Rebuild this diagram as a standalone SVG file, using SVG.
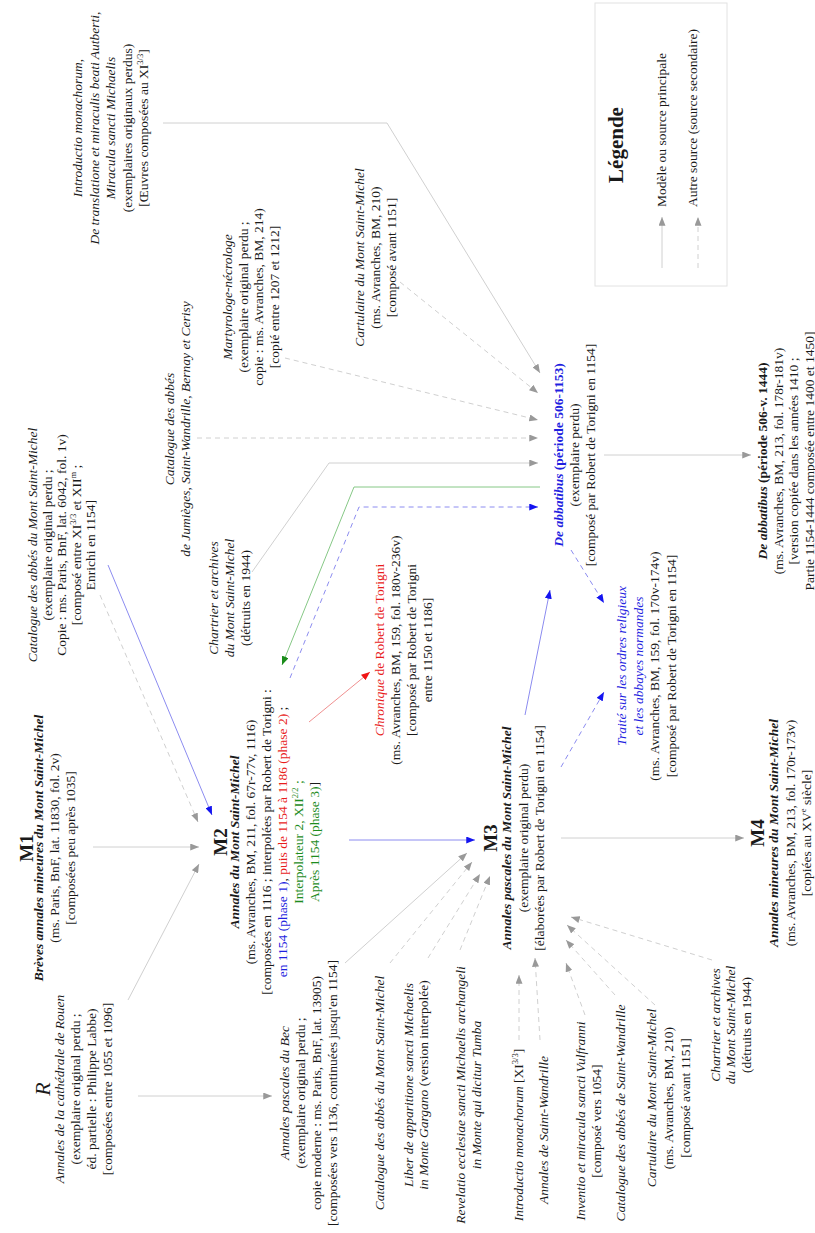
<svg xmlns="http://www.w3.org/2000/svg" width="815" height="1233" viewBox="0 0 815 1233">
<style>
text { font-family: "Liberation Serif", "Times New Roman", serif; font-size: 13.5px; fill: #1a1a1a; text-anchor: middle; }
.i { font-style: italic; }
.b { font-weight: bold; }
.bi { font-weight: bold; font-style: italic; }
.lbl { font-size: 19px; font-weight: bold; }
.blue { fill: #1f1fe0; }
.red { fill: #e81c1c; }
.green { fill: #1e8c1e; }
.start { text-anchor: start; }
.sup { font-size: 8.5px; }
.c { fill: none; stroke: #d0d0d0; stroke-width: 1; }
.d { stroke-dasharray: 5 4; }
.cb { stroke: #8c8cf0; }
.cg { stroke: #86c886; }
.cr { stroke: #f09090; }
</style>
<defs>
<marker id="ag" viewBox="0 0 10 8" refX="10" refY="4" markerWidth="9" markerHeight="7" markerUnits="userSpaceOnUse" orient="auto"><path d="M0,0 L10,4 L0,8 z" fill="#999"/></marker>
<marker id="ab" viewBox="0 0 10 8" refX="10" refY="4" markerWidth="9" markerHeight="7" markerUnits="userSpaceOnUse" orient="auto"><path d="M0,0 L10,4 L0,8 z" fill="#1414f0"/></marker>
<marker id="agr" viewBox="0 0 10 8" refX="10" refY="4" markerWidth="9" markerHeight="7" markerUnits="userSpaceOnUse" orient="auto"><path d="M0,0 L10,4 L0,8 z" fill="#1a8c1a"/></marker>
<marker id="ar" viewBox="0 0 10 8" refX="10" refY="4" markerWidth="9" markerHeight="7" markerUnits="userSpaceOnUse" orient="auto"><path d="M0,0 L10,4 L0,8 z" fill="#f01414"/></marker>
</defs>
<rect width="815" height="1233" fill="#ffffff"/>
<g transform="translate(0,1233) rotate(-90)">
<g id="connectors">
<polyline class="c" points="1110,163 1110,387 860,540" marker-end="url(#ag)"/>
<line class="c d" x1="951" y1="400" x2="840" y2="538" marker-end="url(#ag)"/>
<line class="c d" x1="875" y1="285" x2="813" y2="538" marker-end="url(#ag)"/>
<line class="c d" x1="795" y1="197" x2="795" y2="538" marker-end="url(#ag)"/>
<polyline class="c" points="661,252 770,329 770,538" marker-end="url(#ag)"/>
<polyline class="c cg" points="746,540 746,354 568,282" marker-end="url(#agr)"/>
<polyline class="c d cb" points="555,290 726,359 726,538" marker-end="url(#ab)"/>
<line class="c" x1="778" y1="604" x2="778" y2="751" marker-end="url(#ag)"/>
<line class="c d cb" x1="683" y1="571" x2="630" y2="604" marker-end="url(#ab)"/>
<line class="c d cb" x1="466" y1="561" x2="541" y2="604" marker-end="url(#ab)"/>
<line class="c cb" x1="518" y1="525" x2="643" y2="550" marker-end="url(#ab)"/>
<line class="c cr" x1="511" y1="309" x2="561" y2="370" marker-end="url(#ar)"/>
<line class="c cb" x1="668" y1="108" x2="418" y2="212" marker-end="url(#ab)"/>
<line class="c d" x1="638" y1="100" x2="411" y2="198" marker-end="url(#ag)"/>
<line class="c" x1="386" y1="93" x2="386" y2="199" marker-end="url(#ag)"/>
<line class="c" x1="233" y1="128" x2="369" y2="199" marker-end="url(#ag)"/>
<line class="c" x1="137" y1="138" x2="137" y2="272" marker-end="url(#ag)"/>
<line class="c cb" x1="393" y1="349" x2="393" y2="475" marker-end="url(#ab)"/>
<line class="c" x1="270" y1="345" x2="380" y2="467" marker-end="url(#ag)"/>
<line class="c d" x1="270" y1="390" x2="371" y2="472" marker-end="url(#ag)"/>
<line class="c d" x1="275" y1="428" x2="359" y2="480" marker-end="url(#ag)"/>
<line class="c d" x1="283" y1="460" x2="357" y2="490" marker-end="url(#ag)"/>
<line class="c" x1="395" y1="561" x2="395" y2="744" marker-end="url(#ag)"/>
<line class="c d" x1="193" y1="519" x2="258" y2="519" marker-end="url(#ag)"/>
<line class="c d" x1="193" y1="540" x2="275" y2="535" marker-end="url(#ag)"/>
<line class="c d" x1="218" y1="585" x2="270" y2="566" marker-end="url(#ag)"/>
<line class="c d" x1="238" y1="615" x2="293" y2="566" marker-end="url(#ag)"/>
<line class="c d" x1="228" y1="655" x2="308" y2="567" marker-end="url(#ag)"/>
<line class="c d" x1="273" y1="712" x2="316" y2="571" marker-end="url(#ag)"/>
</g>
<g id="legend">
<rect x="947" y="595" width="283" height="132" fill="none" stroke="#e2e2e2"/>
<text x="1088" y="623" class="b" style="font-size:21px">Légende</text>
<line class="c" x1="965" y1="662" x2="1016" y2="662" marker-end="url(#ag)"/>
<line class="c d" x1="965" y1="698" x2="1016" y2="698" marker-end="url(#ag)"/>
<text x="1026" y="666" class="start">Modèle ou source principale</text>
<text x="1026" y="697" class="start">Autre source (source secondaire)</text>
</g>
<g id="introductio">
<text x="1105" y="82" class="i">Introductio monachorum,</text>
<text x="1105" y="98.5" class="i">De translatione et miraculis beati Autberti,</text>
<text x="1105" y="115" class="i">Miracula sancti Michaelis</text>
<text x="1105" y="131.5">(exemplaires originaux perdus)</text>
<text x="1105" y="148">[Œuvres composées au XI<tspan class="sup" dy="-5">3/3</tspan><tspan dy="5">]</tspan></text>
</g>
<g id="cartulaire-top">
<text x="975.5" y="364" class="i">Cartulaire du Mont Saint-Michel</text>
<text x="975.5" y="380">(ms. Avranches, BM, 210)</text>
<text x="975.5" y="396">[composé avant 1151]</text>
</g>
<g id="martyrologe">
<text x="936" y="232" class="i">Martyrologe-nécrologe</text>
<text x="936" y="247.5">(exemplaire original perdu ;</text>
<text x="936" y="263">copie : ms. Avranches, BM, 214)</text>
<text x="936" y="278.5">[copié entre 1207 et 1212]</text>
</g>
<g id="catalogue-jumieges">
<text x="804" y="174" class="i">Catalogue des abbés</text>
<text x="804" y="190" class="i">de Jumièges, Saint-Wandrille, Bernay et Cerisy</text>
</g>
<g id="catalogue-msm-top">
<text x="688" y="37" class="i">Catalogue des abbés du Mont Saint-Michel</text>
<text x="688" y="51.5">(exemplaire original perdu ;</text>
<text x="688" y="66">Copie : ms. Paris, BnF, lat. 6042, fol. 1v)</text>
<text x="688" y="80.5">[composé entre XI<tspan class="sup" dy="-5">3/3</tspan><tspan dy="5"> et XII</tspan><tspan class="sup" dy="-5">m</tspan><tspan dy="5"> ;</tspan></text>
<text x="688" y="95">Enrichi en 1154]</text>
</g>
<g id="chartrier-top">
<text x="635" y="218" class="i">Chartrier et archives</text>
<text x="635" y="234" class="i">du Mont Saint-Michel</text>
<text x="635" y="250">(détruits en 1944)</text>
</g>
<g id="chronique">
<text x="583" y="384"><tspan class="i red">Chronique</tspan><tspan class="red"> de Robert de Torigni</tspan></text>
<text x="583" y="400">(ms. Avranches, BM, 159, fol. 180v-236v)</text>
<text x="583" y="416">[composé par Robert de Torigni</text>
<text x="583" y="432">entre 1150 et 1186]</text>
</g>
<g id="de-abbatibus-1153">
<text x="778" y="563"><tspan class="bi blue">De abbatibus</tspan><tspan class="b blue"> (période 506-1153)</tspan></text>
<text x="778" y="579">(exemplaire perdu)</text>
<text x="778" y="595">[composé par Robert de Torigni en 1154]</text>
</g>
<g id="traite">
<text x="567" y="626" class="i blue">Traité sur les ordres religieux</text>
<text x="567" y="642.5" class="i blue">et les abbayes normandes</text>
<text x="567" y="659">(ms. Avranches, BM, 159, fol. 170v-174v)</text>
<text x="567" y="675.5">[composé par Robert de Torigni en 1154]</text>
</g>
<g id="de-abbatibus-1444">
<text x="772" y="767"><tspan class="bi">De abbatibus</tspan><tspan class="b"> (période 506-v. 1444)</tspan></text>
<text x="772" y="782.5">(ms. Avranches, BM, 213, fol. 178r-181v)</text>
<text x="772" y="798">[version copiée dans les années 1410 ;</text>
<text x="772" y="813.5">Partie 1154-1444 composée entre 1400 et 1450]</text>
</g>
<g id="m1">
<text x="385" y="33" class="lbl">M1</text>
<text x="385" y="43" class="bi">Brèves annales mineures du Mont Saint-Michel</text>
<text x="385" y="59">(ms. Paris, BnF, lat. 11830, fol. 2v)</text>
<text x="385" y="75">[composées peu après 1035]</text>
</g>
<g id="r">
<text x="144" y="50" class="i" style="font-size:22px">R</text>
<text x="144" y="64" class="i">Annales de la cathédrale de Rouen</text>
<text x="144" y="80">(exemplaire original perdu ;</text>
<text x="144" y="96">éd. partielle : Philippe Labbe)</text>
<text x="144" y="112">[composées entre 1055 et 1096]</text>
</g>
<g id="m2">
<text x="391" y="227" class="lbl">M2</text>
<text x="391" y="239" class="bi">Annales du Mont Saint-Michel</text>
<text x="391" y="255">(ms. Avranches, BM, 211, fol. 67r-77v, 1116)</text>
<text x="391" y="271">[composées en 1116 ; interpolées par Robert de Torigni :</text>
<text x="391" y="287"><tspan class="blue">en 1154 (phase 1)</tspan>, <tspan class="red">puis de 1154 à 1186 (phase 2)</tspan> ;</text>
<text x="391" y="303" class="green">Interpolateur 2, XII<tspan class="sup" dy="-5">2/2</tspan><tspan dy="5"> ;</tspan></text>
<text x="391" y="319"><tspan class="green">Après 1154 (phase 3)</tspan>]</text>
</g>
<g id="m3">
<text x="395" y="497" class="lbl">M3</text>
<text x="395" y="511" class="bi">Annales pascales du Mont Saint-Michel</text>
<text x="395" y="528">(exemplaire original perdu)</text>
<text x="395" y="544">[élaborées par Robert de Torigni en 1154]</text>
</g>
<g id="m4">
<text x="400" y="764" class="lbl">M4</text>
<text x="400" y="778" class="bi">Annales mineures du Mont Saint-Michel</text>
<text x="400" y="795">(ms. Avranches, BM, 213, fol. 170r-173v)</text>
<text x="400" y="811">[copiées au XV<tspan class="sup" dy="-5">e</tspan><tspan dy="5"> siècle]</tspan></text>
</g>
<g id="bec">
<text x="140" y="289" class="i">Annales pascales du Bec</text>
<text x="140" y="305">(exemplaire original perdu ;</text>
<text x="140" y="321">copie moderne : ms. Paris, BnF, lat. 13905)</text>
<text x="140" y="337">[composées vers 1136, continuées jusqu'en 1154]</text>
</g>
<g id="catalogue-msm-bottom">
<text x="140" y="384" class="i">Catalogue des abbés du Mont Saint-Michel</text>
</g>
<g id="liber">
<text x="148" y="413" class="i">Liber de apparitione sancti Michaelis</text>
<text x="148" y="428"><tspan class="i">in Monte Gargano</tspan> (version interpolée)</text>
</g>
<g id="revelatio">
<text x="138" y="465" class="i">Revelatio ecclesiae sancti Michaelis archangeli</text>
<text x="138" y="481" class="i">in Monte qui dicitur Tumba</text>
</g>
<g id="introductio-monachorum">
<text x="98" y="523"><tspan class="i">Introductio monachorum</tspan> [XI<tspan class="sup" dy="-5">3/3</tspan><tspan dy="5">]</tspan></text>
</g>
<g id="annales-saint-wandrille">
<text x="103" y="548" class="i">Annales de Saint-Wandrille</text>
</g>
<g id="inventio">
<text x="112" y="585" class="i">Inventio et miracula sancti Vulfranni</text>
<text x="112" y="601">[composé vers 1054]</text>
</g>
<g id="catalogue-saint-wandrille">
<text x="120" y="625" class="i">Catalogue des abbés de Saint-Wandrille</text>
</g>
<g id="cartulaire-bottom">
<text x="135" y="656" class="i">Cartulaire du Mont Saint-Michel</text>
<text x="135" y="673">(ms. Avranches, BM, 210)</text>
<text x="135" y="690">[composé avant 1151]</text>
</g>
<g id="chartrier-bottom">
<text x="208" y="720" class="i">Chartrier et archives</text>
<text x="208" y="735" class="i">du Mont Saint-Michel</text>
<text x="208" y="751">(détruits en 1944)</text>
</g>
</g>
</svg>
